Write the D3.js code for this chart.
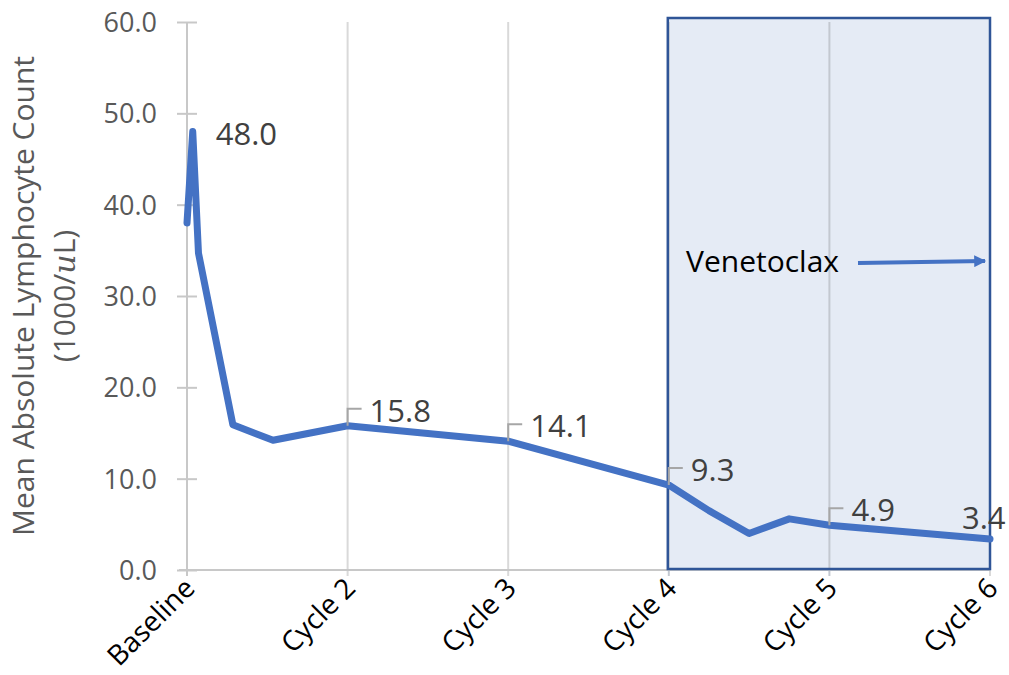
<!DOCTYPE html>
<html><head><meta charset="utf-8">
<script src="https://cdn.jsdelivr.net/npm/d3@7"></script>
<style>body{margin:0;background:#fff}svg{display:block}text{font-family:"Open Sans",Lato,sans-serif}</style>
</head><body><svg id="c" width="1009" height="675"></svg>
<script>
// Data (x in days since baseline; one cycle = 28 days)
const days = [0, 1, 2, 8, 15, 28, 56, 84, 91, 98, 105, 112, 140];
const values = [38.0, 48.0, 34.7, 15.9, 14.2, 15.8, 14.1, 9.3, 6.5, 4.0, 5.6, 4.9, 3.4];
const cycleDays = [0, 28, 56, 84, 112, 140];
const cycleLabels = ["Baseline", "Cycle 2", "Cycle 3", "Cycle 4", "Cycle 5", "Cycle 6"];
const yTicks = [0, 10, 20, 30, 40, 50, 60];
const labelledIdx = [1, 5, 6, 7, 11, 12];
const venetoclaxStart = 84, venetoclaxEnd = 140;

const svg = d3.select("#c");
const x = d3.scaleLinear().domain([0, 140]).range([187, 990]);
const y = d3.scaleLinear().domain([0, 60]).range([570, 22]);

const boxX = x(venetoclaxStart) - 1, boxW = x(venetoclaxEnd) - x(venetoclaxStart) + 1;
const boxY = y(60) - 4, boxH = y(0) - y(60) + 3;

// Venetoclax shaded box (fill)
svg.append("rect").attr("x", boxX).attr("y", boxY).attr("width", boxW).attr("height", boxH)
  .attr("fill", "#E5EBF5");

// vertical gridlines
svg.append("g").selectAll("line").data(cycleDays.slice(1)).join("line")
  .attr("x1", d => x(d)).attr("x2", d => x(d))
  .attr("y1", y(60)).attr("y2", y(0) + 6)
  .attr("stroke", d => d >= venetoclaxStart && d < venetoclaxEnd ? "#C3C8D0" : "#D9D9D9")
  .attr("stroke-width", 2);

// x axis line
svg.append("line").attr("x1", x(0) - 8).attr("x2", x(140)).attr("y1", y(0)).attr("y2", y(0))
  .attr("stroke", "#C8C8C8").attr("stroke-width", 2);

// box outline
svg.append("rect").attr("x", boxX).attr("y", boxY).attr("width", boxW).attr("height", boxH)
  .attr("fill", "none").attr("stroke", "#2F5597").attr("stroke-width", 2.5);

// y axis
const yAxis = d3.axisLeft(y).tickValues(yTicks).tickFormat(d3.format(".1f")).tickSize(0).tickPadding(30);
const yg = svg.append("g").attr("transform", `translate(${x(0)},0)`).call(yAxis);
yg.select(".domain").attr("stroke", "#C8C8C8").attr("stroke-width", 2).attr("d", `M0,${y(60)}V${y(0)+6}`);
yg.selectAll(".tick text").attr("fill", "#595959").style("font-size", "27px").attr("dy", "0.35em");
yg.selectAll(".tick").append("line").attr("x1", -10).attr("x2", 10).attr("stroke", "#C8C8C8").attr("stroke-width", 2);

// x axis labels
const xAxis = d3.axisBottom(x).tickValues(cycleDays).tickFormat((d, i) => cycleLabels[i]).tickSize(0);
const xg = svg.append("g").attr("transform", `translate(0,${y(0)})`).call(xAxis);
xg.select(".domain").remove();
xg.selectAll(".tick text")
  .attr("fill", "#000").style("font-size", "28px")
  .attr("text-anchor", "end")
  .attr("transform", "translate(9,20) rotate(-45)")
  .attr("x", 0).attr("y", 0).attr("dy", 0);

// y axis title
const title = svg.append("text").attr("transform", `translate(0,${y(30)}) rotate(-90)`)
  .attr("text-anchor", "middle").attr("fill", "#595959").style("font-size", "30px");
title.append("tspan").attr("x", 0).attr("y", 34).text("Mean Absolute Lymphocyte Count");
const t2 = title.append("tspan").attr("x", 0).attr("y", 75);
t2.append("tspan").text("(1000/");
t2.append("tspan").style("font-style", "italic").style("font-family", "'DejaVu Serif', serif").text("u");
t2.append("tspan").text("L)");

// line
const pts = days.map((d, i) => [d, values[i]]);
svg.append("path").datum(pts)
  .attr("d", d3.line().x(d => x(d[0])).y(d => y(d[1])))
  .attr("fill", "none").attr("stroke", "#4472C4").attr("stroke-width", 7)
  .attr("stroke-linejoin", "round").attr("stroke-linecap", "round");

// data labels
labelledIdx.forEach(i => {
  const px = x(days[i]), py = y(values[i]);
  const txt = values[i].toFixed(1);
  let tx, ty, leader = false;
  if (i === 1) { tx = px + 23; ty = py + 13; }
  else if (i === days.length - 1) { tx = px - 28; ty = py - 10; }
  else { tx = px + 22; ty = py - 4; leader = true; }
  if (leader) {
    svg.append("path").attr("d", `M${px},${py}V${py - 17}H${px + 14}`)
      .attr("fill", "none").attr("stroke", "#A6A6A6").attr("stroke-width", 2);
  }
  svg.append("text").attr("x", tx).attr("y", ty).attr("fill", "#404040")
    .style("font-size", "31px").text(txt);
});

// Venetoclax annotation
svg.append("defs").append("marker").attr("id", "ah").attr("viewBox", "0 0 10 10")
  .attr("refX", 9).attr("refY", 5).attr("markerWidth", 3.2).attr("markerHeight", 3)
  .attr("orient", "auto").attr("markerUnits", "strokeWidth")
  .append("path").attr("d", "M0,0L10,5L0,10z").attr("fill", "#4472C4");
svg.append("text").attr("x", 686).attr("y", 272).attr("fill", "#000").style("font-size", "30px").text("Venetoclax");
svg.append("line").attr("x1", 858).attr("y1", 263).attr("x2", 985).attr("y2", 261)
  .attr("stroke", "#4472C4").attr("stroke-width", 4).attr("marker-end", "url(#ah)");
</script></body></html>
